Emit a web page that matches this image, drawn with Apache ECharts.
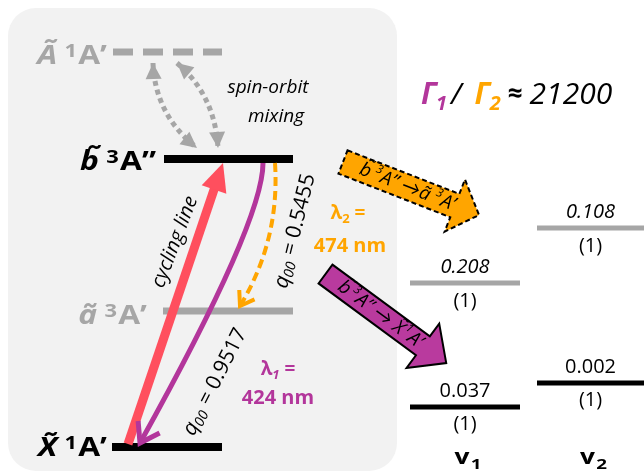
<!DOCTYPE html>
<html><head><meta charset="utf-8">
<script src="https://cdn.jsdelivr.net/npm/echarts@6/dist/echarts.min.js"></script>
<style>html,body{margin:0;padding:0;background:#fff}#c{width:644px;height:473px}</style>
</head><body><div id="c"></div>
<script>
// ================= DATA =================
// electronic states (energy in diagram units, relative to X~ 1A')
const stateLetters = ['X\u0303', '\u00e3', 'b\u0303', '\u00c3'];
const stateMult    = ['1', '3', '3', '1'];
const stateSymm    = ['A\u2019', 'A\u2019', 'A\u201d', 'A\u2019'];
const stateEnergy  = [0, 136, 288, 395];
const stateBright  = [true, false, true, false];
// transitions: from-state index -> to-state index
const transFrom = [0, 2, 2, 3, 3];
const transTo   = [2, 0, 1, 2, 2];
// Franck-Condon factors and wavelengths (b->X, b->a)
const q00Values   = ['0.9517', '0.5455'];
const wavelengths = [424, 474];
const gammaRatio  = 21200;
// vibrational branching (modes v1, v2)
const vibModes    = ['1', '2'];
const vibBranchA  = ['0.208', '0.108'];
const vibBranchX  = ['0.037', '0.002'];
const vibQuanta   = ['(1)', '(1)'];
const vibEnergyA  = [164, 219];
const vibEnergyX  = [40, 64];

// ================= STYLE / LAYOUT =================
const FONT = '"Open Sans", Lato, sans-serif';
const INK = '#000000', GREY = '#a6a6a6', RED = '#ff4f5e', PURPLE = '#b3369b',
      PURPLE_FILL = '#b93a9e', ORANGE = '#ffa500', BG = '#f2f2f2';
const LV = {
  x0: [112, 163, 164, 113], x1: [222, 293, 293, 222],
  lw: [8, 7, 8, 7], dash: [null, null, null, [20, 10]],
  labelRight: [107, 147, 156, 107], labelDy: [2, 6, 4, 5]
};
const TR = [
  {x0: 128, d0: -3, x1: 223, d1: 4, kind: 'solid', color: RED, lw: 9},
  {x0: 263, d0: 4, x1: 140, d1: -4, cx: 263, cf: 0.21, kind: 'curve', color: PURPLE, lw: 5},
  {x0: 275, d0: 4, x1: 240, d1: -5, cx: 280, cf: 0.54, kind: 'curve', color: ORANGE, lw: 4, dash: [9, 5]},
  {x0: 153, d0: 11, x1: 197, d1: -11, cx: 155, cf: 0.61, kind: 'soc', color: GREY, lw: 5, dash: [5, 4]},
  {x0: 177, d0: 11, x1: 218, d1: -11, cx: 215, cf: 0.38, kind: 'soc', color: GREY, lw: 5, dash: [5, 4]}
];
const VB = { x0: [410, 537], x1: [520, 644], labelY: 458 };

// ================= HELPERS =================
const mctx = document.createElement('canvas').getContext('2d');
function txt(parts, align) {
  let x = 0; const items = [];
  parts.forEach(p => {
    const fs = p.i ? 'italic' : 'normal', fw = p.b ? 'bold' : 'normal';
    mctx.font = fs + ' ' + fw + ' ' + p.s + 'px ' + FONT;
    const w = mctx.measureText(p.t).width;
    items.push({x: x, p: p, fs: fs, fw: fw});
    x += w + (p.g || 0);
  });
  const off = align === 'center' ? -x / 2 : (align === 'right' ? -x : 0);
  return items.map(o => ({
    type: 'text', x: o.x + off, y: o.p.dy || 0, silent: true,
    style: {text: o.p.t, fontSize: o.p.s, fontFamily: FONT, fontWeight: o.fw, fontStyle: o.fs,
            fill: o.p.c || INK, align: 'left', verticalAlign: 'middle'}
  }));
}
function tgroup(x, y, deg, parts, align, sx) {
  return {type: 'group', x: x, y: y, rotation: (deg || 0) * Math.PI / 180, scaleX: sx || 1,
          children: txt(parts, align || 'center')};
}
function norm(v) { const l = Math.hypot(v[0], v[1]); return [v[0] / l, v[1] / l]; }
function headPoly(tip, dir, len, hw) {
  const d = norm(dir), n = [-d[1], d[0]];
  const b = [tip[0] - d[0] * len, tip[1] - d[1] * len];
  return [tip, [b[0] + n[0] * hw, b[1] + n[1] * hw], [b[0] - n[0] * hw, b[1] - n[1] * hw]];
}
function chevron(tip, dir, len, ang) {
  const d = norm(dir), a = ang * Math.PI / 180;
  const bx = -d[0], by = -d[1];
  const r1 = [bx * Math.cos(a) - by * Math.sin(a), bx * Math.sin(a) + by * Math.cos(a)];
  const r2 = [bx * Math.cos(-a) - by * Math.sin(-a), bx * Math.sin(-a) + by * Math.cos(-a)];
  return [[tip[0] + r1[0] * len, tip[1] + r1[1] * len], tip, [tip[0] + r2[0] * len, tip[1] + r2[1] * len]];
}
function blockArrow(tail, deg, L, bhw, hhw, hl) {
  const a = deg * Math.PI / 180, c = Math.cos(a), s = Math.sin(a);
  const loc = [[0, -bhw], [L - hl, -bhw], [L - hl, -hhw], [L, 0], [L - hl, hhw], [L - hl, bhw], [0, bhw]];
  return loc.map(p => [tail[0] + p[0] * c - p[1] * s, tail[1] + p[0] * s + p[1] * c]);
}
function along(tail, deg, d) {
  const a = deg * Math.PI / 180;
  return [tail[0] + d * Math.cos(a), tail[1] + d * Math.sin(a)];
}

// ================= RENDERERS =================
function renderState(params, api) {
  const i = params.dataIndex, E = api.value(1);
  const p0 = api.coord([LV.x0[i], E]), p1 = api.coord([LV.x1[i], E]);
  const col = stateBright[i] ? INK : GREY;
  const S = 26;
  return {type: 'group', children: [
    {type: 'line', shape: {x1: p0[0], y1: p0[1], x2: p1[0], y2: p1[1]},
     style: {stroke: col, lineWidth: LV.lw[i], lineDash: LV.dash[i] || null}},
    tgroup(LV.labelRight[i], p0[1] + LV.labelDy[i], 0, [
      {t: stateLetters[i], s: S, b: 1, i: 1, c: col, g: 6},
      {t: stateMult[i], s: 18, b: 1, c: col, dy: -5, g: 1},
      {t: stateSymm[i], s: S, b: 1, c: col}
    ], 'right', 1.22)
  ]};
}

function renderTrans(params, api) {
  const i = params.dataIndex, T = TR[i];
  const yF = api.coord([0, api.value(0)])[1], yT = api.coord([0, api.value(1)])[1];
  const P0 = [T.x0, yF + T.d0], P2 = [T.x1, yT + T.d1];
  const ch = [];
  if (T.kind === 'solid') {
    const d = norm([P2[0] - P0[0], P2[1] - P0[1]]);
    const hl = 28;
    ch.push({type: 'line', shape: {x1: P0[0], y1: P0[1], x2: P2[0] - d[0] * (hl - 2), y2: P2[1] - d[1] * (hl - 2)},
             style: {stroke: T.color, lineWidth: T.lw}});
    ch.push({type: 'polygon', shape: {points: headPoly(P2, d, hl, 13)}, style: {fill: T.color}});
  } else {
    const C = [T.cx, P0[1] + T.cf * (P2[1] - P0[1])];
    ch.push({type: 'bezierCurve', shape: {x1: P0[0], y1: P0[1], x2: P2[0], y2: P2[1], cpx1: C[0], cpy1: C[1]},
             style: {stroke: T.color, lineWidth: T.lw, lineDash: T.dash || null, fill: null}});
    if (T.kind === 'curve') {
      const len = i === 1 ? 22 : 16;
      ch.push({type: 'polyline', shape: {points: chevron(P2, [P2[0] - C[0], P2[1] - C[1]], len, 34)},
               style: {stroke: T.color, lineWidth: T.lw, fill: null, lineJoin: 'miter'}});
    } else {
      ch.push({type: 'polygon', shape: {points: headPoly(P0, [P0[0] - C[0], P0[1] - C[1]], 16, 8)}, style: {fill: T.color}});
      ch.push({type: 'polygon', shape: {points: headPoly(P2, [P2[0] - C[0], P2[1] - C[1]], 16, 8)}, style: {fill: T.color}});
    }
  }
  return {type: 'group', children: ch};
}

function renderVib(params, api) {
  const i = params.dataIndex;
  const eA = api.value(0), eX = api.value(1);
  const a0 = api.coord([VB.x0[i], eA]), a1 = api.coord([VB.x1[i], eA]);
  const x0 = api.coord([VB.x0[i], eX]), x1 = api.coord([VB.x1[i], eX]);
  const cx = (a0[0] + a1[0]) / 2;
  const S = 20;
  return {type: 'group', children: [
    {type: 'line', shape: {x1: a0[0], y1: a0[1], x2: a1[0], y2: a1[1]}, style: {stroke: GREY, lineWidth: 5}},
    {type: 'line', shape: {x1: x0[0], y1: x0[1], x2: x1[0], y2: x1[1]}, style: {stroke: INK, lineWidth: 5}},
    tgroup(cx, a0[1] - 16, 0, [{t: vibBranchA[i], s: S, i: 1}]),
    tgroup(cx, a0[1] + 18, 0, [{t: vibQuanta[i], s: S}]),
    tgroup(cx, x0[1] - 16, 0, [{t: vibBranchX[i], s: S}]),
    tgroup(cx, x0[1] + 17, 0, [{t: vibQuanta[i], s: S}]),
    tgroup(cx + 3, VB.labelY, 0, [{t: 'v', s: 21, b: 1, g: 1}, {t: vibModes[i], s: 15, b: 1, dy: 7}], 'center', 1.25)
  ]};
}

function renderNotes(params, api) {
  const ratio = api.value(0);
  const ch = [];
  // spin-orbit mixing
  ch.push(tgroup(268, 88, 0, [{t: 'spin-orbit', s: 19, i: 1}]));
  ch.push(tgroup(276, 117, 0, [{t: 'mixing', s: 19, i: 1}]));
  // cycling line
  ch.push(tgroup(175, 242, 69, [{t: 'cycling line', s: 20, i: 1}]));
  // q00 labels
  ch.push(tgroup(215, 382, 63, [{t: 'q', s: 21, i: 1}, {t: '00', s: 14, i: 1, dy: 5, g: 1}, {t: ' = ' + q00Values[0], s: 21}]));
  ch.push(tgroup(295, 231, 76, [{t: 'q', s: 21, i: 1}, {t: '00', s: 14, i: 1, dy: 5, g: 1}, {t: ' = ' + q00Values[1], s: 21}]));
  // wavelengths
  ch.push(tgroup(278, 370, 0, [{t: '\u03bb', s: 19, b: 1, c: PURPLE}, {t: '1', s: 13, b: 1, i: 1, c: PURPLE, dy: 5}, {t: ' =', s: 19, b: 1, c: PURPLE}]));
  ch.push(tgroup(278, 398, 0, [{t: wavelengths[0] + ' nm', s: 20, b: 1, c: PURPLE}]));
  ch.push(tgroup(348, 214, 0, [{t: '\u03bb', s: 19, b: 1, c: ORANGE}, {t: '2', s: 13, b: 1, c: ORANGE, dy: 5}, {t: ' =', s: 19, b: 1, c: ORANGE}]));
  ch.push(tgroup(350, 246, 0, [{t: wavelengths[1] + ' nm', s: 20, b: 1, c: ORANGE}]));
  // Gamma ratio
  ch.push(tgroup(421, 95, 0, [
    {t: '\u0393', s: 30, b: 1, i: 1, c: PURPLE}, {t: '1', s: 20, b: 1, i: 1, c: PURPLE, dy: 9, g: 4},
    {t: '/', s: 30, i: 1, g: 13},
    {t: '\u0393', s: 30, b: 1, i: 1, c: ORANGE}, {t: '2', s: 20, b: 1, i: 1, c: ORANGE, dy: 9, g: 7},
    {t: '\u2248', s: 26, b: 1, g: 7},
    {t: String(ratio), s: 30, i: 1}
  ], 'left'));
  // block arrows
  const oT = [343, 162], oA = 21.3;
  ch.push({type: 'polygon', shape: {points: blockArrow(oT, oA, 146, 12.5, 28, 26)},
           style: {fill: ORANGE, stroke: INK, lineWidth: 2, lineDash: [5, 3], lineJoin: 'miter'}});
  const oc = along(oT, oA, 69);
  ch.push(tgroup(oc[0], oc[1], -oA, [
    {t: 'b\u0303', s: 19, i: 1, g: 4}, {t: '3', s: 12, i: 1, dy: -6, g: 1}, {t: 'A\u201d \u2192', s: 19, i: 1},
    {t: '\u00e3 ', s: 19, i: 1}, {t: '3', s: 12, i: 1, dy: -6, g: 1}, {t: 'A\u2019', s: 19, i: 1}]));
  const pT = [325.5, 274], pA = 36.4;
  ch.push({type: 'polygon', shape: {points: blockArrow(pT, pA, 150, 11.7, 27.5, 29)},
           style: {fill: PURPLE_FILL, stroke: INK, lineWidth: 2, lineJoin: 'miter'}});
  const pc = along(pT, pA, 68);
  ch.push(tgroup(pc[0], pc[1], -pA, [
    {t: 'b\u0303', s: 19, i: 1, g: 3}, {t: '3', s: 12, i: 1, dy: -6, g: 1}, {t: 'A\u201d \u2192 X\u0303', s: 19, i: 1, g: 1},
    {t: '1', s: 12, i: 1, dy: -6, g: 1}, {t: 'A\u2019', s: 19, i: 1}]));
  return {type: 'group', children: ch};
}

// ================= CHART =================
const chart = echarts.init(document.getElementById('c'), null, {renderer: 'canvas'});
chart.setOption({
  animation: false,
  backgroundColor: '#ffffff',
  grid: {left: 0, right: 0, top: 0, bottom: 0},
  xAxis: {type: 'value', min: 0, max: 644, show: false},
  yAxis: {type: 'value', min: -26, max: 447, show: false},
  graphic: [{type: 'rect', z: -10, shape: {x: 8, y: 8, width: 389, height: 463, r: 28}, style: {fill: BG}}],
  series: [
    {type: 'custom', name: 'states', z: 3, renderItem: renderState,
     data: stateEnergy.map((e, i) => [i, e])},
    {type: 'custom', name: 'vibrational', z: 3, renderItem: renderVib,
     data: vibEnergyA.map((e, i) => [e, vibEnergyX[i]])},
    {type: 'custom', name: 'transitions', z: 4, renderItem: renderTrans,
     data: transFrom.map((f, i) => [stateEnergy[f], stateEnergy[transTo[i]]])},
    {type: 'custom', name: 'notes', z: 5, renderItem: renderNotes, data: [[gammaRatio, 0]]}
  ]
});
</script>
</body></html>
